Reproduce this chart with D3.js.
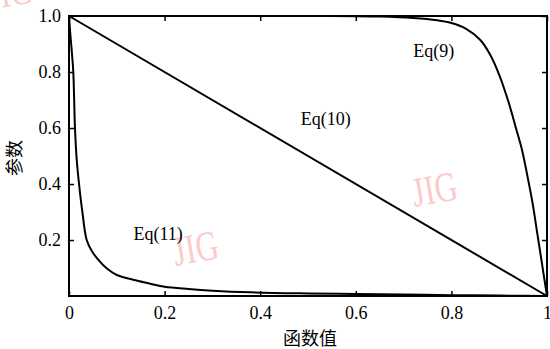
<!DOCTYPE html>
<html>
<head>
<meta charset="utf-8">
<script src="https://cdn.jsdelivr.net/npm/d3@7"></script>
<style>
  body { margin: 0; background: #fff; }
</style>
</head>
<body>
<div id="chart"></div>
<script>
// data
const xTicks = [0, 0.2, 0.4, 0.6, 0.8, 1];
const xTickLabels = ['0', '0.2', '0.4', '0.6', '0.8', '1'];
const yTicks = [0.2, 0.4, 0.6, 0.8, 1.0];
const yTickLabels = ['0.2', '0.4', '0.6', '0.8', '1.0'];

const eq9X = [0.55, 0.65, 0.72, 0.77, 0.80, 0.83, 0.86, 0.88, 0.90, 0.92, 0.935, 0.948, 0.96, 0.97, 0.98, 0.99, 1.0];
const eq9Y = [1.0, 0.998, 0.993, 0.985, 0.975, 0.955, 0.915, 0.865, 0.79, 0.69, 0.60, 0.52, 0.42, 0.33, 0.22, 0.11, 0.0];

const eq10X = [0, 1];
const eq10Y = [1, 0];

const eq11X = [0, 0.003, 0.006, 0.009, 0.0125, 0.016, 0.021, 0.028, 0.037, 0.048, 0.061, 0.08, 0.1, 0.134, 0.17, 0.2, 0.25, 0.3, 0.38, 0.5, 0.6, 0.7, 0.8, 0.9, 1.0];
const eq11Y = [1, 0.93, 0.87, 0.8, 0.6, 0.49, 0.4, 0.3, 0.2, 0.16, 0.13, 0.097, 0.075, 0.058, 0.044, 0.033, 0.025, 0.019, 0.013, 0.009, 0.007, 0.005, 0.003, 0.0015, 0];

const labels = [
  {text: 'Eq(9)', x: 0.72, y: 0.855},
  {text: 'Eq(10)', x: 0.485, y: 0.61},
  {text: 'Eq(11)', x: 0.135, y: 0.2}
];

const serif = '"Liberation Serif", "DejaVu Serif", serif';
const cjk = '"Noto Sans CJK SC", sans-serif';

const svg = d3.select('#chart').append('svg').attr('width', 550).attr('height', 349);

const margin = {top: 16, right: 3, bottom: 53, left: 69},
      width = +svg.attr('width') - margin.left - margin.right,
      height = +svg.attr('height') - margin.top - margin.bottom;

const x = d3.scaleLinear().domain([0, 1]).range([0, width]);
const y = d3.scaleLinear().domain([0, 1]).range([height, 0]);

// watermarks
const marks = [[12, 6], [198, 262], [437, 203]];
marks.forEach(m => {
  svg.append('text')
    .attr('transform', `translate(${m[0]},${m[1]}) rotate(-10) scale(0.75,1)`)
    .attr('text-anchor', 'middle')
    .style('font-family', serif)
    .style('font-size', '42px')
    .attr('fill', '#fbcaca')
    .text('JIG');
});

const g = svg.append('g')
    .attr('transform', `translate(${margin.left},${margin.top})`);

const xFmt = (d, i) => xTickLabels[i];
const yFmt = (d, i) => yTickLabels[i];

g.append('g')
    .attr('transform', `translate(0,${height})`)
    .call(d3.axisBottom(x).tickValues(xTicks).tickFormat(xFmt).tickSizeInner(-5).tickSizeOuter(0).tickPadding(10));
g.append('g')
    .call(d3.axisTop(x).tickValues(xTicks).tickFormat('').tickSizeInner(-5).tickSizeOuter(0));
g.append('g')
    .call(d3.axisLeft(y).tickValues(yTicks).tickFormat(yFmt).tickSizeInner(-5).tickSizeOuter(0).tickPadding(8));
g.append('g')
    .attr('transform', `translate(${width},0)`)
    .call(d3.axisRight(y).tickValues(yTicks).tickFormat('').tickSizeInner(-5).tickSizeOuter(0));

g.selectAll('.domain').remove();
g.selectAll('.tick line').attr('stroke', '#000').attr('stroke-width', 1.5);
g.selectAll('.tick text').attr('fill', '#000')
  .style('font-size', '18px')
  .style('font-family', serif);

g.append('rect')
  .attr('width', width).attr('height', height)
  .attr('fill', 'none').attr('stroke', '#000').attr('stroke-width', 2);

const line = d3.line()
    .x(d => x(d[0]))
    .y(d => y(d[1]))
    .curve(d3.curveCatmullRom.alpha(0.5));

const series = [
  d3.zip(eq9X, eq9Y),
  d3.zip(eq10X, eq10Y),
  d3.zip(eq11X, eq11Y)
];

series.forEach(s => {
  g.append('path')
    .datum(s)
    .attr('fill', 'none')
    .attr('stroke', '#000')
    .attr('stroke-width', 2)
    .attr('d', line);
});

labels.forEach(l => {
  g.append('text')
    .attr('x', x(l.x))
    .attr('y', y(l.y))
    .style('font-size', '18px')
    .style('font-family', serif)
    .attr('fill', '#000')
    .text(l.text);
});

svg.append('text')
  .attr('x', margin.left + width / 2 + 2)
  .attr('y', 345)
  .attr('text-anchor', 'middle')
  .style('font-size', '18px')
  .style('font-family', cjk)
  .text('函数值');

svg.append('text')
  .attr('transform', `translate(21,158) rotate(-90)`)
  .attr('text-anchor', 'middle')
  .style('font-size', '18px')
  .style('font-family', cjk)
  .text('参数');
</script>
</body>
</html>
